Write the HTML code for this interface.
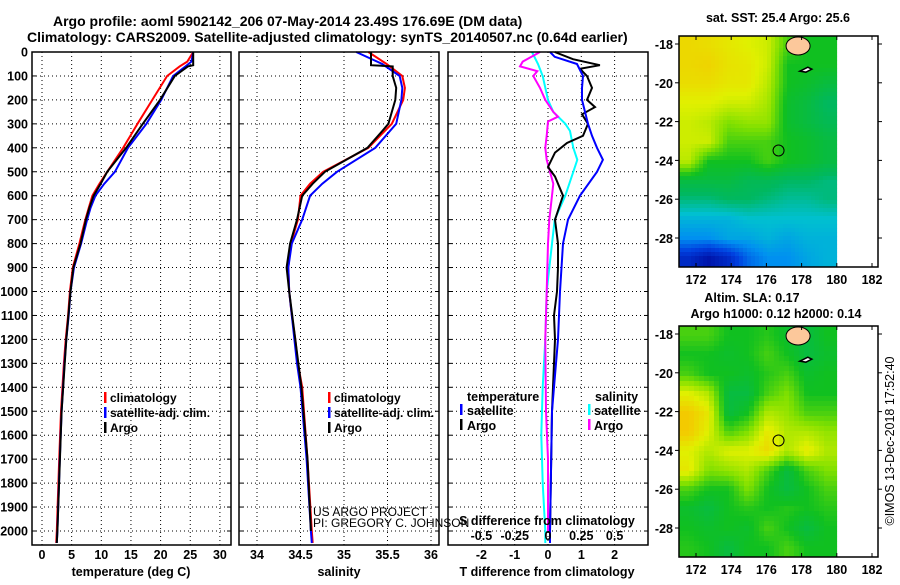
<!DOCTYPE html>
<html><head><meta charset="utf-8"><style>
body{margin:0;background:#fff}
svg text{font-family:"Liberation Sans",Arial,sans-serif;font-weight:bold;fill:#000}
</style></head><body>
<svg id="c" width="900" height="580" viewBox="0 0 900 580" xmlns="http://www.w3.org/2000/svg"></svg>
<script>
// ---- data ----
const tempClimDepth=[0,40,60,100,200,300,400,500,550,600,650,700,750,800,900,1000,1100,1200,1300,1500,1700,2000,2050];
const tempClim=[25.5,24.5,23.2,21.1,18.6,16.1,13.7,11.0,9.7,8.5,7.9,7.3,6.8,6.3,5.2,4.7,4.4,4.0,3.7,3.2,2.9,2.5,2.4];
const tempSat=[25.5,25.2,24.2,22.1,20.1,17.6,14.5,12.3,10.5,9.0,8.2,7.6,7.1,6.6,5.4,4.8,4.5,4.1,3.8,3.3,3.0,2.6,2.5];
const tempArgoDepth=[0,55,60,100,200,300,400,500,550,600,650,700,800,900,1000,1200,1500,2000,2050];
const tempArgo=[25.5,25.5,24.6,22.4,19.9,17.0,14.2,11.0,9.9,8.7,8.0,7.4,6.5,5.3,4.8,4.1,3.3,2.6,2.5];
const salDepth=[0,50,100,150,200,300,400,500,550,600,700,800,900,1000,1100,1200,1300,1400,1700,2000,2050];
const salClim=[35.28,35.49,35.67,35.70,35.68,35.55,35.28,34.76,34.61,34.50,34.47,34.39,34.36,34.37,34.40,34.44,34.47,34.52,34.58,34.63,34.64];
const salSat=[35.14,35.44,35.64,35.67,35.66,35.60,35.36,34.92,34.75,34.61,34.52,34.40,34.36,34.37,34.40,34.43,34.46,34.50,34.57,34.62,34.63];
const salArgoDepth=[0,55,60,100,150,200,300,330,400,500,550,600,700,800,900,1000,1200,1400,1700,2000];
const salArgo=[35.31,35.31,35.56,35.56,35.60,35.59,35.51,35.44,35.27,34.78,34.64,34.52,34.46,34.38,34.34,34.37,34.44,34.51,34.58,34.62];
const dTSatDepth=[0,20,50,100,150,200,300,350,400,450,500,600,700,800,1000,1200,1500,2000,2050];
const dTSat=[0.06,0.2,0.87,1.05,1.02,1.02,1.2,1.32,1.47,1.65,1.47,0.96,0.6,0.45,0.36,0.3,0.12,0.06,0.06];
const dTArgoDepth=[0,30,55,70,100,150,200,230,260,300,350,380,420,480,520,600,700,800,900,1000,1100,1200,1500,2000,2050];
const dTArgo=[0.2,0.75,1.56,0.96,1.17,1.32,1.17,1.41,1.02,1.2,1.05,0.57,0.21,0.0,0.21,0.45,0.21,0.3,0.3,0.27,0.18,0.21,0.12,0.06,0.06];
const dSSatDepth=[0,50,100,200,250,300,330,400,450,500,600,700,800,1000,1200,1400,1600,1800,2000,2050];
const dSSat=[-0.12,-0.075,-0.04,0,0.04,0.13,0.165,0.19,0.22,0.19,0.13,0.05,0.03,-0.01,-0.02,-0.04,-0.05,-0.04,-0.02,-0.02];
const dSArgoDepth=[0,40,60,80,100,150,200,250,270,290,350,400,450,500,550,600,700,800,1000,1200,1500,1700,2000];
const dSArgo=[-0.06,-0.19,-0.21,-0.08,-0.11,-0.06,-0.02,0.04,0.075,0,-0.01,-0.02,-0.01,0.015,0.04,0.03,0.01,0,-0.01,-0.02,-0.015,0,0];
const depthTicks=[0,100,200,300,400,500,600,700,800,900,1000,1100,1200,1300,1400,1500,1600,1700,1800,1900,2000];
const tempTicks=[0,5,10,15,20,25,30];
const salTicks=[34,34.5,35,35.5,36];
const salTickLabels=["34","34.5","35","35.5","36"];
const dTTicks=[-2,-1,0,1,2];
const dSTicks=[-0.5,-0.25,0,0.25,0.5];
const dSTickLabels=["-0.5","-0.25","0","0.25","0.5"];
const lonTicks=[172,174,176,178,180,182];
const latTicks=[-18,-20,-22,-24,-26,-28];
const sstGrid=[
[0.75,0.74,0.72,0.7,0.68,0.55,0.5,0.5],
[0.75,0.76,0.73,0.72,0.68,0.5,0.5,0.5],
[0.74,0.74,0.72,0.72,0.66,0.5,0.48,0.45],
[0.7,0.7,0.68,0.68,0.64,0.48,0.45,0.4],
[0.68,0.66,0.6,0.62,0.62,0.48,0.45,0.42],
[0.68,0.68,0.55,0.55,0.55,0.5,0.48,0.45],
[0.66,0.5,0.5,0.5,0.55,0.5,0.48,0.45],
[0.45,0.45,0.45,0.42,0.42,0.4,0.4,0.38],
[0.38,0.38,0.4,0.4,0.38,0.36,0.36,0.38],
[0.3,0.3,0.3,0.32,0.32,0.32,0.32,0.32],
[0.25,0.25,0.28,0.28,0.3,0.28,0.3,0.3],
[0.1,0.05,0.1,0.2,0.25,0.25,0.28,0.3]];
const slaGrid=[
[0.55,0.55,0.5,0.5,0.52,0.48,0.45,0.5],
[0.5,0.5,0.48,0.5,0.55,0.5,0.45,0.48],
[0.55,0.5,0.5,0.48,0.52,0.55,0.48,0.5],
[0.7,0.65,0.45,0.45,0.55,0.6,0.5,0.5],
[0.78,0.72,0.45,0.5,0.65,0.62,0.55,0.55],
[0.78,0.7,0.55,0.6,0.72,0.65,0.65,0.62],
[0.7,0.65,0.7,0.7,0.75,0.65,0.72,0.65],
[0.72,0.6,0.62,0.65,0.55,0.45,0.55,0.6],
[0.55,0.5,0.5,0.6,0.5,0.45,0.5,0.55],
[0.48,0.45,0.5,0.52,0.5,0.52,0.5,0.52],
[0.5,0.48,0.5,0.48,0.55,0.5,0.45,0.5],
[0.52,0.5,0.45,0.5,0.5,0.55,0.5,0.5]];

// ---- helpers ----
const svg=document.getElementById('c');
const NS='http://www.w3.org/2000/svg';
function el(tag,attrs,parent){const e=document.createElementNS(NS,tag);for(const k in attrs)e.setAttribute(k,attrs[k]);(parent||svg).appendChild(e);return e;}
function txt(s,x,y,size,anchor,parent){const t=el('text',{x:x,y:y,'font-size':size,'text-anchor':anchor||'start'},parent);t.textContent=s;return t;}
const yD=d=>52+d*0.2395;
const PT=52,PB=545;
function panel(x0,x1,name){const g=el('g',{});
  depthTicks.forEach(d=>{if(d>0)el('line',{x1:x0,x2:x1,y1:yD(d),y2:yD(d),stroke:'#000','stroke-width':1,'stroke-dasharray':'1,3'},g);
   el('line',{x1:x0,x2:x0+4,y1:yD(d),y2:yD(d),stroke:'#000'},g);el('line',{x1:x1-4,x2:x1,y1:yD(d),y2:yD(d),stroke:'#000'},g);});
  return g;}
function vgrid(g,xs){xs.forEach(x=>el('line',{x1:x,x2:x,y1:PT,y2:PB,stroke:'#000','stroke-dasharray':'1,3'},g));}
function frame(g,x0,x1){el('rect',{x:x0,y:PT,width:x1-x0,height:PB-PT,fill:'none',stroke:'#000','stroke-width':1.5},g);}
function line(g,xs,ds,fx,color,name,w){const p=xs.map((v,i)=>(i?'L':'M')+fx(v).toFixed(1)+','+yD(ds[i]).toFixed(1)).join('');
  const e=el('path',{d:p,fill:'none',stroke:color,'stroke-width':w||2},g);}

// titles
let t=txt('Argo profile: aoml 5902142_206 07-May-2014 23.49S 176.69E (DM data)',53,26,14);
t=txt('Climatology: CARS2009. Satellite-adjusted climatology: synTS_20140507.nc (0.64d earlier)',27,42,14);
// depth labels
depthTicks.forEach(d=>{const l=txt(String(d),28,yD(d)+4.5,12.5,'end');});

// panel 1 temperature
const fT=v=>42+v*5.93;
let g1=panel(32,231,'temperature-panel');vgrid(g1,tempTicks.map(fT));
line(g1,tempClim,tempClimDepth,fT,'#f00','temp-climatology-line');
line(g1,tempSat,tempClimDepth,fT,'#00f','temp-satellite-line');
line(g1,tempArgo,tempArgoDepth,fT,'#000','temp-argo-line');
frame(g1,32,231);
tempTicks.forEach(v=>txt(String(v),fT(v),559,12.5,'middle'));
txt('temperature (deg C)',131,576,12.5,'middle');
function legend(x,y,items,g){items.forEach((it,i)=>{el('rect',{x:x,y:y+i*15-10,width:2.5,height:11,fill:it[1]},g);txt(it[0],x+6,y+i*15,12,'start',g);});}
legend(104,402,[['climatology','#f00'],['satellite-adj. clim.','#00f'],['Argo','#000']],g1);

// panel 2 salinity
const fS=v=>257+(v-34)*87;
let g2=panel(239,439,'salinity-panel');vgrid(g2,salTicks.map(fS));
line(g2,salClim,salDepth,fS,'#f00','sal-climatology-line');
line(g2,salSat,salDepth,fS,'#00f','sal-satellite-line');
line(g2,salArgo,salArgoDepth,fS,'#000','sal-argo-line');
frame(g2,239,439);
salTicks.forEach((v,i)=>txt(salTickLabels[i],fS(v),559,12.5,'middle'));
txt('salinity',339,576,12.5,'middle');
legend(328,402,[['climatology','#f00'],['satellite-adj. clim.','#00f'],['Argo','#000']],g2);
let c1=el('text',{x:313,y:516,'font-size':12,style:'font-weight:normal'});c1.textContent='US ARGO PROJECT';

let c2=el('text',{x:313,y:527,'font-size':12,style:'font-weight:normal'});c2.textContent='PI: GREGORY C. JOHNSON';


// panel 3 differences
const fDT=v=>548+v*33.3;
const fDS=v=>548+v*133.2;
let g3=panel(448,648,'difference-panel');vgrid(g3,dTTicks.map(fDT));
line(g3,dSSat,dSSatDepth,fDS,'#0ff','sal-diff-satellite-line');
line(g3,dSArgo,dSArgoDepth,fDS,'#f0f','sal-diff-argo-line');
line(g3,dTArgo,dTArgoDepth,fDT,'#000','temp-diff-argo-line');
line(g3,dTSat,dTSatDepth,fDT,'#00f','temp-diff-satellite-line');
frame(g3,448,648);
dTTicks.forEach(v=>txt(String(v),fDT(v),559,12.5,'middle'));
dSTicks.forEach((v,i)=>txt(dSTickLabels[i],fDS(v),540,12.5,'middle'));
txt('S difference from climatology',547,525,12.5,'middle');
txt('T difference from climatology',547,576,12.5,'middle');
txt('temperature',467,401,12.5);txt('salinity',595,401,12.5);
el('rect',{x:460,y:404,width:2.5,height:11,fill:'#00f'});txt('satellite',467,415,12.5);
el('rect',{x:460,y:419,width:2.5,height:11,fill:'#000'});txt('Argo',467,430,12.5);
el('rect',{x:588,y:404,width:2.5,height:11,fill:'#0ff'});txt('satellite',594,415,12.5);
el('rect',{x:588,y:419,width:2.5,height:11,fill:'#f0f'});txt('Argo',594,430,12.5);

// maps
const stops=[[0,[0,0,144]],[0.15,[0,64,224]],[0.25,[0,144,240]],[0.32,[0,192,208]],[0.4,[0,184,96]],[0.5,[16,192,32]],[0.6,[128,224,0]],[0.7,[224,240,0]],[0.8,[248,192,0]],[0.9,[240,128,0]],[1,[224,64,0]]];
function cmap(v){for(let i=1;i<stops.length;i++){if(v<=stops[i][0]){const a=stops[i-1],b=stops[i],f=(v-a[0])/(b[0]-a[0]);return 'rgb('+a[1].map((c,j)=>Math.round(c+(b[1][j]-c)*f)).join(',')+')';}}return 'rgb(224,64,0)';}
function map(top,grid,step,name,titles){
  const g=el('g',{});
  const fx=lon=>696+(lon-172)*17.6, fy=lat=>top+8+(-18-lat)*19.4;
  const x0=679,x1=878,bottom=top+231,dx=fx(180);
  const rows=grid.length,cols=grid[0].length;
  for(let y=top;y<bottom;y+=step){for(let x=x0;x<dx;x+=step){
    let gx=(x+step/2-x0)/(dx-x0)*cols-0.5, gy=(y+step/2-top)/(bottom-top)*rows-0.5;
    gx=Math.max(0,Math.min(cols-1.001,gx));gy=Math.max(0,Math.min(rows-1.001,gy));const ix=Math.floor(gx),iy=Math.floor(gy),fxx=gx-ix,fyy=gy-iy;
    const v=grid[iy][ix]*(1-fxx)*(1-fyy)+grid[iy][ix+1]*fxx*(1-fyy)+grid[iy+1][ix]*(1-fxx)*fyy+grid[iy+1][ix+1]*fxx*fyy;
    el('rect',{x:x,y:y,width:Math.min(step,dx-x)+0.3,height:Math.min(step,bottom-y)+0.3,fill:cmap(v)},g);}}
  el('ellipse',{cx:fx(177.8),cy:fy(-18.1),rx:12,ry:9,fill:'#fcc89b',stroke:'#000','stroke-width':1},g);
  el('path',{d:`M${fx(177.9)},${fy(-19.4)} l8,-4 l4,2 l-6,3 z`,fill:'#fff',stroke:'#000','stroke-width':1.5},g);
  const ci=el('circle',{cx:fx(176.69),cy:fy(-23.49),r:5.5,fill:'none',stroke:'#000','stroke-width':1},g);
  
  el('rect',{x:x0,y:top,width:x1-x0,height:bottom-top,fill:'none',stroke:'#000','stroke-width':1.5},g);
  lonTicks.forEach(l=>{el('line',{x1:fx(l),x2:fx(l),y1:bottom,y2:bottom-4,stroke:'#000'},g);el('line',{x1:fx(l),x2:fx(l),y1:top,y2:top+4,stroke:'#000'},g);txt(String(l),fx(l),bottom+17,12.5,'middle',g);});
  latTicks.forEach(l=>{el('line',{x1:x0,x2:x0-4,y1:fy(l),y2:fy(l),stroke:'#000'},g);el('line',{x1:x1,x2:x1+4,y1:fy(l),y2:fy(l),stroke:'#000'},g);txt(String(l),x0-6,fy(l)+5,12.5,'end',g);});
  titles.forEach((s,i)=>txt(s[0],s[1],s[2],12.5,'middle',g));
}
map(36,sstGrid,4,'sst-map',[['sat. SST: 25.4 Argo: 25.6',778,22]]);
map(326,slaGrid,5,'sla-map',[['Altim. SLA: 0.17',752,302],['Argo h1000: 0.12 h2000: 0.14',776,318]]);
const imos=txt('©IMOS 13-Dec-2018 17:52:40',0,0,12.5,'middle');imos.setAttribute('style','font-weight:normal');
imos.setAttribute('transform','translate(894,441) rotate(-90)');

</script>
</body></html>
